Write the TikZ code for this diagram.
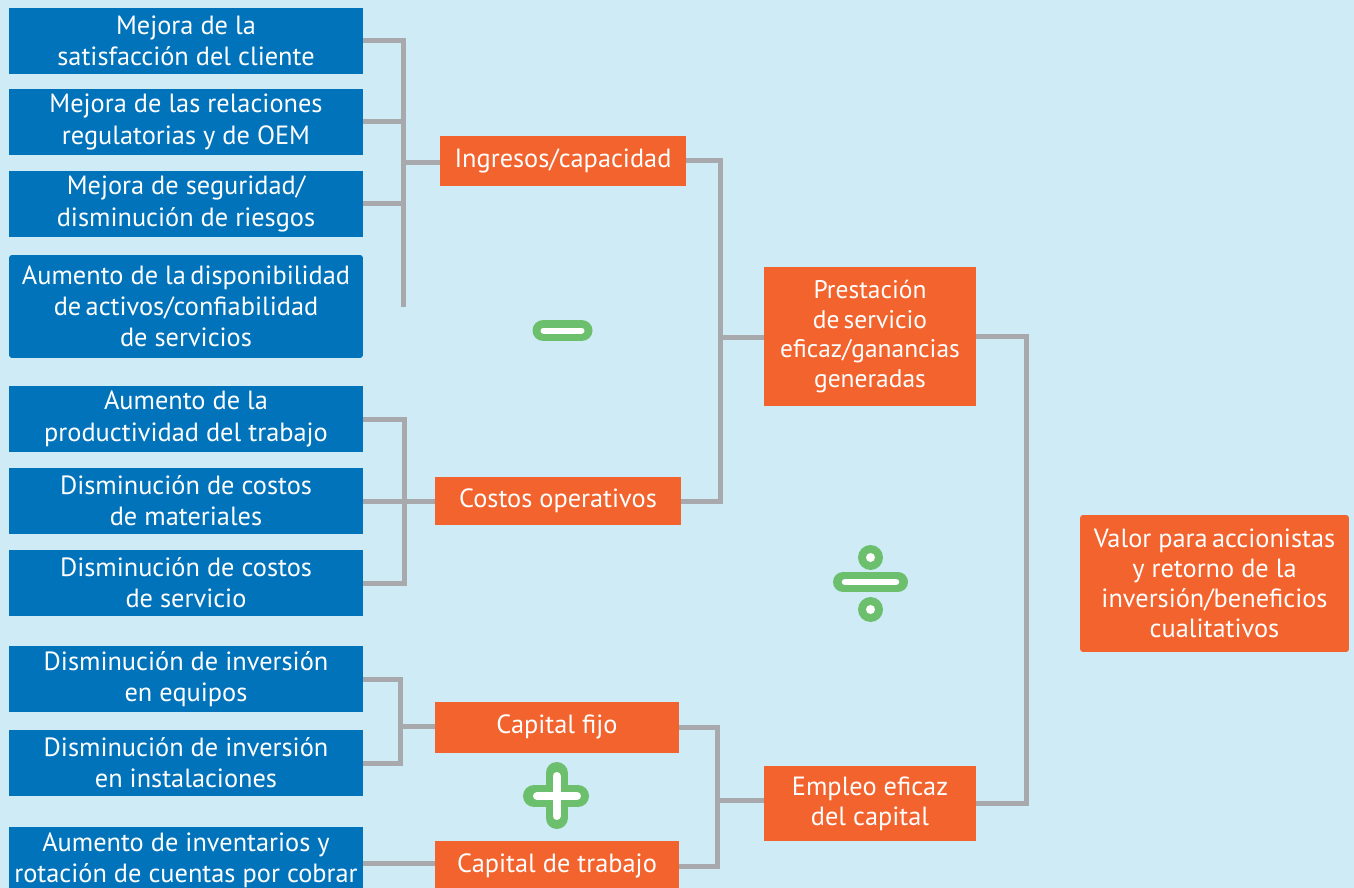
\documentclass[tikz,border=0pt]{standalone}
\usepackage{fontspec}
\setmainfont{PT Sans}

\definecolor{bgblue}{HTML}{CEEBF6}
\definecolor{boxblue}{HTML}{0173BB}
\definecolor{boxorange}{HTML}{F2632E}
\definecolor{linegray}{HTML}{A7A9AC}
\definecolor{signgreen}{HTML}{6CBF6C}

\tikzset{
  bluebox/.style={fill=boxblue, text=white, align=center, inner sep=0pt,
    minimum width=7.08cm, minimum height=1.32cm,
    font=\fontsize{15}{17.8}\selectfont},
  orangebox/.style={fill=boxorange, text=white, align=center, inner sep=0pt,
    font=\fontsize{15}{17}\selectfont},
  conn/.style={draw=linegray, line width=0.1cm},
  signout/.style={draw=signgreen, line width=0.44cm, line cap=round},
  signin/.style={draw=white, line width=0.13cm, line cap=round},
}

\begin{document}
\begin{tikzpicture}[x=0.02cm, y=-0.02cm]
    \fill[bgblue] (0,0) rectangle (1354,888);
    \useasboundingbox (0,0) rectangle (1354,888);
    \clip (0,0) rectangle (1354,888);

    % left column
    \foreach \n/\y/\t in {
        b1/41/{Mejora de la\\satisfacción del cliente},
        b2/122/{Mejora de las relaciones\\regulatorias y de OEM},
        b3/204/{Mejora de seguridad/\\disminución de riesgos},
        b5/419/{Aumento de la\\productividad del trabajo},
        b6/501/{Disminución de costos\\de materiales},
        b7/583/{Disminución de costos\\de servicio},
        b8/679/{Disminución de inversión\\en equipos},
        b9/763/{Disminución de inversión\\en instalaciones},
        b10/860/{Aumento de inventarios y\\rotación de cuentas por cobrar}} {
        \node[bluebox] (\n) at (186,\y) {\t};
    }
    \node[bluebox, minimum height=2.06cm, rounded corners=0.06cm] (b4) at (186,306.5)
        {Aumento de la\,disponibilidad\\de\,activos/confiabilidad\\de servicios};

    % middle column
    \node[orangebox, minimum width=4.92cm, minimum height=1cm] (ing) at (563,161) {Ingresos/capacidad};
    \node[orangebox, minimum width=4.92cm, minimum height=0.98cm] (cos) at (558,501) {Costos operativos};
    \node[orangebox, minimum width=4.88cm, minimum height=1.02cm] (fijo) at (557,727) {Capital fijo};
    \node[orangebox, minimum width=4.88cm, minimum height=1.02cm] (trab) at (557,866) {Capital de trabajo};

    \node[orangebox, minimum width=4.24cm, minimum height=2.78cm, font=\fontsize{14.5}{17}\selectfont] (pres) at (870,336.5)
        {Prestación\\de\,servicio\\eficaz/ganancias\\generadas};
    \node[orangebox, minimum width=4.24cm, minimum height=1.5cm] (emp) at (870,803.5)
        {Empleo eficaz\\del capital};
    \node[orangebox, minimum width=5.38cm, minimum height=2.74cm, rounded corners=0.06cm] (val) at (1214.5,583.5)
        {Valor para\,accionistas\\y retorno de la\\inversión/beneficios\\cualitativos};

    % connectors
    \coordinate (j1) at (403,163);
    \coordinate (j2) at (404,501);
    \coordinate (j3) at (400,726);
    \coordinate (j4) at (720,337);
    \coordinate (j5) at (717,800);
    \coordinate (j6) at (1026,337);

    \draw[conn] (b1.east) -| (j1 |- b4.east);
    \draw[conn] (b2.east) -- (b2.east -| j1);
    \draw[conn] (b3.east) -- (b3.east -| j1);
    \draw[conn] (j1) -- (j1 -| ing.west);

    \draw[conn] (b5.east) -| (j2 |- b7.east) -- (b7.east);
    \draw[conn] (b6.east) -- (b6.east -| cos.west);

    \draw[conn] (b8.east) -| (j3 |- b9.east) -- (b9.east);
    \draw[conn] (j3) -- (j3 -| fijo.west);
    \draw[conn] (b10.east |- 0,863) -- (trab.west |- 0,863);

    \draw[conn] (ing.east) -| (j4 |- cos.east) -- (cos.east);
    \draw[conn] (j4) -- (j4 -| pres.west);

    \draw[conn] (fijo.east) -| (j5 |- trab.east) -- (trab.east);
    \draw[conn] (j5) -- (j5 -| emp.west);

    \draw[conn] (pres.east) -| (j6 |- emp.east) -- (emp.east);

    % signs
    \draw[signout] (543.5,330.5) -- (581.5,330.5);
    \draw[signin, line width=0.12cm] (543.5,330.5) -- (581.5,330.5);

    \draw[signout, line width=0.4cm] (843,582) -- (898,582);
    \draw[signin] (845,582) -- (896,582);
    \foreach \y in {557.5,609.5} {
        \fill[signgreen] (870.5,\y) circle[radius=0.25cm];
        \fill[white] (870.5,\y) circle[radius=0.09cm];
    }

    \draw[signout] (534,796) -- (578,796);
    \draw[signout] (556.5,773) -- (556.5,818);
    \draw[signin, line width=0.16cm] (537,796) -- (577,796);
    \draw[signin, line width=0.16cm] (556.5,776) -- (556.5,816);
\end{tikzpicture}
\end{document}
